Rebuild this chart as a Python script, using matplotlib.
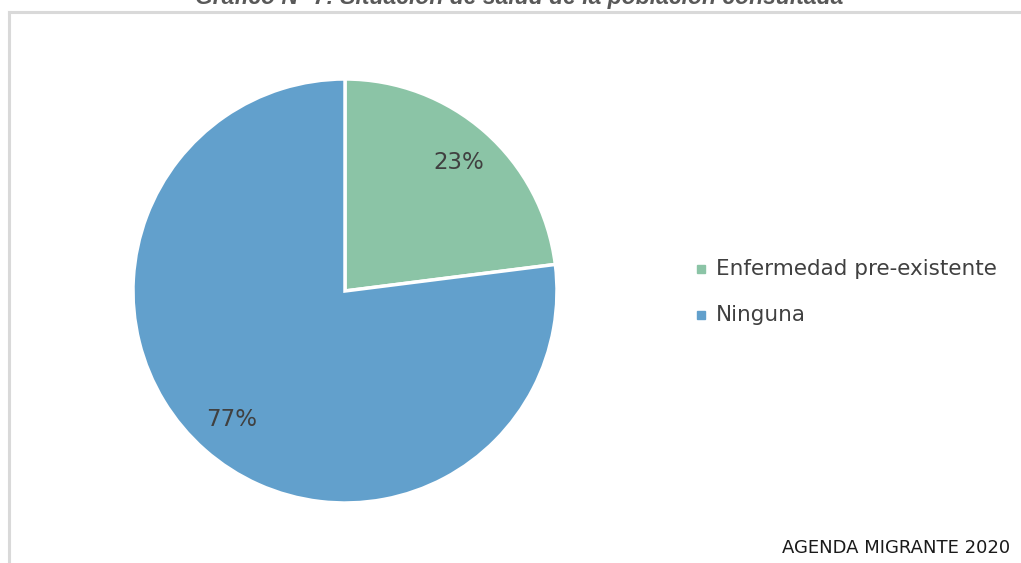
import matplotlib
matplotlib.use("Agg")
import matplotlib.pyplot as plt
from matplotlib.patches import Rectangle
from matplotlib.lines import Line2D

categories = ["Enfermedad pre-existente", "Ninguna"]
shares = [23, 77]
colors = ["#8bc4a6", "#62a0cc"]

title = "Gráfico N° 7: Situación de salud de la población consultada"
source = "AGENDA MIGRANTE 2020"

W, H = 1021, 563
fig = plt.figure(figsize=(W / 100, H / 100), dpi=100)
fig.patch.set_facecolor("white")

# light gray frame (top and left edges visible in the original)
frame = "#d9d9d9"
fig.add_artist(Line2D([8.5 / W, 1.0], [1 - 12 / H, 1 - 12 / H], color=frame, lw=2.2,
                      transform=fig.transFigure))
fig.add_artist(Line2D([8.5 / W, 8.5 / W], [0, 1 - 12 / H], color=frame, lw=2.2,
                      transform=fig.transFigure))

# title, cut by the top edge as in the source image
fig.text(519 / W, 1 + 3 / H, title, ha="center", va="center", fontsize=16.5,
         fontweight="bold", fontstyle="italic", color="#595959", family="Liberation Sans")

# pie axes: center (345, 291), radius 212 px
cx, cy, r = 345, 291, 212
ax = fig.add_axes([(cx - r) / W, (H - cy - r) / H, 2 * r / W, 2 * r / H])
wedges, texts, autotexts = ax.pie(
    shares, colors=colors, startangle=90, counterclock=False,
    autopct="%1.0f%%", pctdistance=0.81,
    wedgeprops=dict(edgecolor="white", linewidth=2.5),
    textprops=dict(fontsize=16.5, color="#404040"),
)
ax.set_xlim(-1, 1)
ax.set_ylim(-1, 1)
ax.set_aspect("auto")
ax.axis("off")

# legend
ys = [269, 315]
for cat, col, y in zip(categories, colors, ys):
    fig.add_artist(Rectangle((697 / W, 1 - (y + 4) / H), 8 / W, 8 / H,
                             color=col, transform=fig.transFigure))
    fig.text(716 / W, 1 - y / H, cat, ha="left", va="center", fontsize=15.5,
             color="#404040")

fig.text(1010 / W, 1 - 548 / H, source, ha="right", va="center", fontsize=13,
         color="#1a1a1a")

fig.savefig("out.png", dpi=100)
